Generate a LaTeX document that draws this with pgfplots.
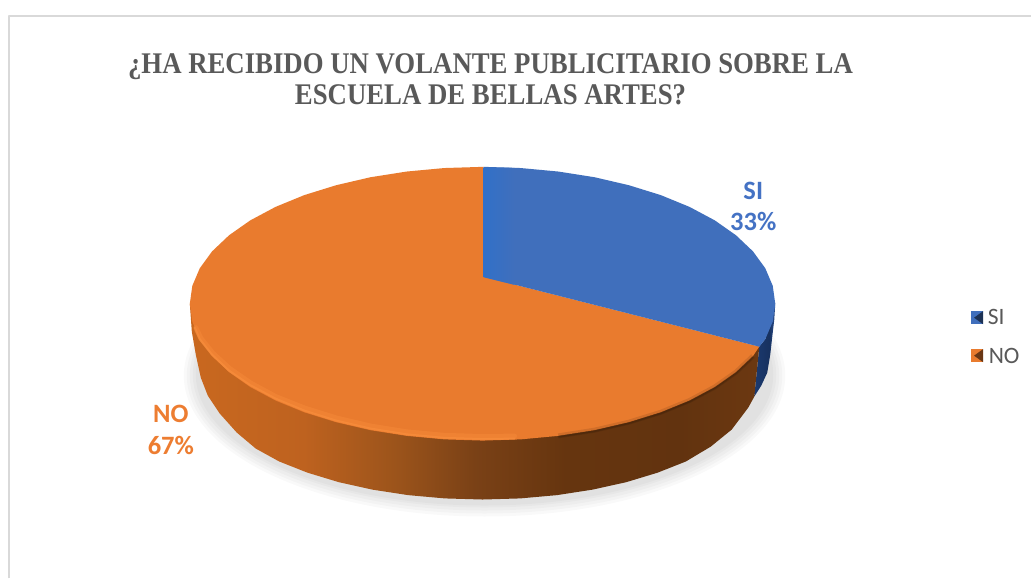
\documentclass[border=0pt]{standalone}
\usepackage{pgfplots}
\pgfplotsset{compat=1.18}
\usepackage{fontspec}
\setmainfont{Carlito}
\newfontfamily\titlefont{Liberation Serif}
\definecolor{frameline}{HTML}{D9D9D9}
\definecolor{txt}{HTML}{595959}
\definecolor{sliceblue}{HTML}{406FBC}
\definecolor{sliceorange}{HTML}{E97B2E}
\definecolor{labelblue}{HTML}{4472C4}
\definecolor{labelorange}{HTML}{ED7D31}
\definecolor{rimlight}{HTML}{F78C3B}
\definecolor{stripblue}{HTML}{3170C8}
\definecolor{wa}{HTML}{C9681F}
\definecolor{wb}{HTML}{BE621F}
\definecolor{wc}{HTML}{9C541B}
\definecolor{wd}{HTML}{7A4116}
\definecolor{we}{HTML}{66350F}
\definecolor{wf}{HTML}{62330F}
\definecolor{wg}{HTML}{6C3811}
\definecolor{ba}{HTML}{1B3A70}
\definecolor{bb}{HTML}{17315F}
\definecolor{bc}{HTML}{2A4D8C}
% Wall of the orange slice: light on the left, dark brown towards the right
\pgfdeclarehorizontalshading{orangewall}{100bp}{
  color(0bp)=(wa); color(25bp)=(wa);
  color(35bp)=(wb); color(43bp)=(wc);
  color(50bp)=(wd); color(58bp)=(we);
  color(68bp)=(wf); color(75bp)=(wg); color(100bp)=(wg)}
\pgfdeclarehorizontalshading{bluewall}{100bp}{
  color(0bp)=(ba); color(25bp)=(ba);
  color(60bp)=(bb); color(75bp)=(bc); color(100bp)=(bc)}
\begin{document}
\begin{tikzpicture}
\begin{axis}[
  width=1032pt, height=579pt, scale only axis,
  xmin=0, xmax=1032, ymin=0, ymax=579, y dir=reverse,
  hide axis, clip=false,
  every axis plot/.append style={line join=round},
]
% page background and the chart frame
\addplot[fill=white, draw=none] coordinates {(0,0)(1032,0)(1032,579)(0,579)};
\addplot[draw=frameline, line width=2pt] coordinates {(9.5,579)(9.5,16.5)(1032,16.5)};

% soft shadow under the pie
\fill[black, opacity=.025] (axis cs:485,376) ellipse [x radius=301, y radius=141];
\fill[black, opacity=.025] (axis cs:485,376) ellipse [x radius=298, y radius=138];
\fill[black, opacity=.025] (axis cs:485,376) ellipse [x radius=295, y radius=135];
\fill[black, opacity=.025] (axis cs:485,375) ellipse [x radius=292, y radius=133];
\fill[black, opacity=.025] (axis cs:485,375) ellipse [x radius=289, y radius=131];

% wall of the SI slice
\addplot[shading=bluewall, draw=none] coordinates {
  (776,304)(775,320)(773,337)(771,355)(768,373)(762,386)(755,397)(760,347)(766,339.5)};
% wall of the NO slice
\addplot[shading=orangewall, draw=none] coordinates {
  (760,347)(755,397)(749,408)(732.4,430)(711.5,447)(686.6,461.9)(658.3,473.1)
  (627,482.6)(593.2,490.1)(557.5,495.6)(520.6,498.9)(483,500)(445.4,498.9)
  (408.5,495.6)(372.8,490.1)(339,482.6)(307.7,473.1)(279.4,461.9)(256,449)
  (237,433)(220,414)(208,396)(201,378)(196,355)(192,332)(190,304)(483,304)};

% top of the NO slice (67 %)
\addplot[fill=sliceorange, draw=none] coordinates {
  (484,277)(760,347)(753.7,356.4)(736.7,372.5)(715.5,387.4)(690.2,400.9)(661.4,412.7)
  (629.5,422.6)(595.1,430.6)(558.8,436.3)(521.2,439.8)(483,441)(444.8,439.8)
  (407.2,436.3)(370.9,430.6)(336.5,422.6)(304.6,412.7)(275.8,400.9)(250.5,387.4)
  (229.3,372.5)(212.3,356.4)(200,339.5)(192.5,321.9)(190,304)(192.5,286.1)(200,268.5)
  (212.3,251.6)(229.3,235.5)(250.5,220.6)(275.8,207.1)(304.6,195.3)(336.5,185.4)
  (370.9,177.4)(407.2,171.7)(444.8,168.2)(484,167)};
% top of the SI slice (33 %)
\addplot[fill=sliceblue, draw=none] coordinates {
  (484,277)(484,167)(521.2,168.2)(558.8,171.7)(595.1,177.4)(629.5,185.4)(661.4,195.3)
  (690.2,207.1)(715.5,220.6)(736.7,235.5)(753.7,251.6)(766,268.5)(773.5,286.1)
  (776,304)(773.5,321.9)(766,339.5)(760,347)};
% lighter band along the vertical edge of the SI slice
\addplot[shade, left color=stripblue, right color=sliceblue, draw=none] coordinates {
  (484,167.5)(515,168)(515,285.2)(484,277.5)};

% bevel along the front rim
\addplot[draw=rimlight, opacity=.45, line width=5pt, line cap=round] coordinates {
  (196,328)(201,338.5)(213,353.5)(230,369)(251,383.5)(276,397)(305,408.5)
  (337,418.5)(371,426.5)(407.2,432.3)(444.8,435.8)(483,437)(515,436.5)};
\addplot[draw=rimlight, opacity=.8, line width=2pt, line cap=round] coordinates {
  (195,328)(200,339.5)(212.3,355)(229.3,371)(250.5,385.5)(275.8,399)(304.6,411)
  (336.5,421)(370.9,429)(407.2,434.8)(444.8,438.3)(483,439.5)(515,439)};
% soft dark edge where the rim turns away from the light
\addplot[draw=black, opacity=.1, line width=5pt] coordinates {
  (558.8,436.3)(595.1,430.6)(629.5,422.6)(661.4,412.7)(690.2,400.9)(715.5,387.4)
  (736.7,372.5)(753.7,356.4)};
\addplot[draw=black, opacity=.12, line width=2pt] coordinates {
  (558.8,437)(595.1,431.4)(629.5,423.4)(661.4,413.5)(690.2,401.7)(715.5,388.2)
  (736.7,373.3)(753.7,357.2)};

% titles and data labels
\node[font=\titlefont\bfseries\fontsize{26.8}{32}\selectfont, text=txt, inner sep=0pt]
  at (axis cs:491,66.5) {\scalebox{1}[1.12]{¿HA RECIBIDO UN VOLANTE PUBLICITARIO SOBRE LA}};
\node[font=\titlefont\bfseries\fontsize{26.8}{32}\selectfont, text=txt, inner sep=0pt]
  at (axis cs:491,94.5) {\scalebox{1}[1.12]{ESCUELA DE BELLAS ARTES?}};
\node[font=\bfseries\fontsize{26.5}{30}\selectfont, text=labelblue, inner sep=0pt] at (axis cs:754,191) {SI};
\node[font=\bfseries\fontsize{26.5}{30}\selectfont, text=labelblue, inner sep=0pt] at (axis cs:754,222) {33\%};
\node[font=\bfseries\fontsize{26.5}{30}\selectfont, text=labelorange, inner sep=0pt] at (axis cs:171,414) {NO};
\node[font=\bfseries\fontsize{26.5}{30}\selectfont, text=labelorange, inner sep=0pt] at (axis cs:171,446) {67\%};

% legend keys and entries
\addplot[fill=sliceblue, draw=none] coordinates {(971.5,311.5)(984,311.5)(984,324.5)(971.5,324.5)};
\addplot[fill=black!55!sliceblue, draw=none] coordinates {(984,311.5)(984,324.5)(975,318)};
\addplot[fill=sliceorange, draw=none] coordinates {(971.5,349.5)(984,349.5)(984,362.5)(971.5,362.5)};
\addplot[fill=black!55!sliceorange, draw=none] coordinates {(984,349.5)(984,362.5)(975,356)};
\node[font=\fontsize{23.5}{26}\selectfont, text=txt, anchor=west, inner sep=0pt] at (axis cs:988.5,317.5) {SI};
\node[font=\fontsize{23.5}{26}\selectfont, text=txt, anchor=west, inner sep=0pt] at (axis cs:989.5,356.5) {NO};
\end{axis}
\end{tikzpicture}
\end{document}
